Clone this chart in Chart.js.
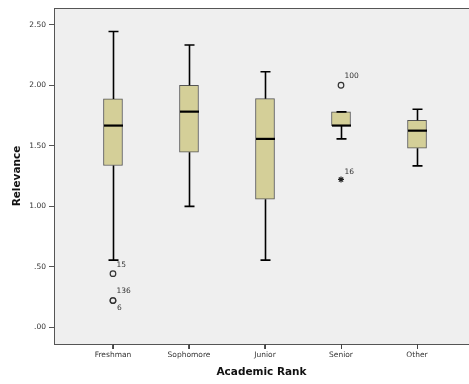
<!DOCTYPE html>
<html>
<head>
<meta charset="utf-8">
<script src="https://cdn.jsdelivr.net/npm/chart.js@4/dist/chart.umd.min.js"></script>
<style>
html,body{margin:0;padding:0;background:#fff;}
#wrap{width:469px;height:384px;}
</style>
</head>
<body>
<div id="wrap"><canvas id="c" width="469" height="384"></canvas></div>
<script>
const categories = ['Freshman', 'Sophomore', 'Junior', 'Senior', 'Other'];
const whiskerLow  = [0.556, 1.000, 0.556, 1.557, 1.334];
const q1          = [1.337, 1.447, 1.059, 1.667, 1.480];
const median      = [1.667, 1.782, 1.557, 1.667, 1.625];
const q3          = [1.887, 2.000, 1.889, 1.780, 1.711];
const whiskerHigh = [2.444, 2.333, 2.112, 1.780, 1.802];

const outlierCat   = [0, 0, 0, 3];
const outlierVal   = [0.444, 0.222, 0.222, 2.000];
const outlierLabel = ['15', '136', '6', '100'];

const extremeCat   = [3];
const extremeVal   = [1.222];
const extremeLabel = ['16'];

const yTicks = [0, 0.5, 1.0, 1.5, 2.0, 2.5];

const FONT = "'DejaVu Sans', sans-serif";

const boxPlugin = {
  id: 'boxPlugin',
  beforeDraw(chart) {
    const {ctx, chartArea: a} = chart;
    ctx.save();
    ctx.fillStyle = '#efefef';
    ctx.fillRect(a.left, a.top, a.right - a.left, a.bottom - a.top);
    ctx.fillStyle = '#555';
    ctx.fillRect(a.left, a.top, a.right - a.left, 1);
    ctx.restore();
  },
  afterDraw(chart) {
    // tick marks of the category axis, placed by the x scale
    const {ctx, chartArea: a} = chart;
    const xs = chart.scales.x;
    ctx.save();
    ctx.fillStyle = '#444';
    categories.forEach((c, i) => {
      const x = Math.round(xs.getPixelForValue(i));
      ctx.fillRect(x, Math.round(a.bottom), 1, 5);
    });
    ctx.restore();
  },
  afterDatasetsDraw(chart) {
    const {ctx} = chart;
    const xs = chart.scales.x, ys = chart.scales.y;
    ctx.save();
    ctx.strokeStyle = '#000';
    categories.forEach((c, i) => {
      const x = Math.round(xs.getPixelForValue(i)) + 0.5;
      const yl = ys.getPixelForValue(whiskerLow[i]);
      const y1 = ys.getPixelForValue(q1[i]);
      const ym = ys.getPixelForValue(median[i]);
      const y3 = ys.getPixelForValue(q3[i]);
      const yh = ys.getPixelForValue(whiskerHigh[i]);
      ctx.lineWidth = 1.6;
      ctx.beginPath();
      if (yl - y1 > 0.5) { ctx.moveTo(x, y1); ctx.lineTo(x, yl); }
      if (y3 - yh > 0.5) { ctx.moveTo(x, y3); ctx.lineTo(x, yh); }
      ctx.stroke();
      ctx.beginPath();
      ctx.moveTo(x - 5, yl); ctx.lineTo(x + 5, yl);
      ctx.moveTo(x - 5, yh); ctx.lineTo(x + 5, yh);
      ctx.stroke();
      ctx.lineWidth = 2.2;
      ctx.beginPath();
      ctx.moveTo(x - 9.5, ym); ctx.lineTo(x + 9.5, ym);
      ctx.stroke();
    });
    ctx.fillStyle = '#333';
    ctx.font = '7.5px ' + FONT;
    ctx.textAlign = 'left';
    ctx.textBaseline = 'middle';
    const seen = {};
    const drawLabels = (cats, vals, labels, upOff) => {
      labels.forEach((t, i) => {
        const key = cats[i] + '_' + vals[i];
        const n = seen[key] || 0;
        seen[key] = n + 1;
        const px = xs.getPixelForValue(cats[i]);
        const py = ys.getPixelForValue(vals[i]);
        if (n === 0) ctx.fillText(t, px + 3.5, py - upOff);
        else ctx.fillText(t, px + 4, py + 8);
      });
    };
    drawLabels(outlierCat, outlierVal, outlierLabel, 9);
    drawLabels(extremeCat, extremeVal, extremeLabel, 7);
    ctx.restore();
  }
};

new Chart(document.getElementById('c'), {
  type: 'bar',
  data: {
    datasets: [
      {
        type: 'bar',
        data: categories.map((c, i) => ({x: i, y: [q1[i], q3[i]]})),
        backgroundColor: '#d4cf98',
        borderColor: '#555',
        borderWidth: 1,
        borderSkipped: false,
        barThickness: 19
      },
      {
        type: 'scatter',
        data: outlierCat.map((c, i) => ({x: c, y: outlierVal[i]})),
        pointStyle: 'circle',
        pointRadius: 2.8,
        backgroundColor: 'rgba(0,0,0,0)',
        borderColor: '#333',
        borderWidth: 1.2
      },
      {
        type: 'scatter',
        data: extremeCat.map((c, i) => ({x: c, y: extremeVal[i]})),
        pointStyle: 'star',
        pointRadius: 3,
        backgroundColor: '#222',
        borderColor: '#222',
        borderWidth: 1.2
      }
    ]
  },
  options: {
    responsive: false,
    animation: false,
    events: [],
    layout: {autoPadding: false, padding: {top: 8, right: 0, left: 0, bottom: 0}},
    plugins: {legend: {display: false}, tooltip: {enabled: false}},
    scales: {
      x: {
        type: 'linear',
        min: -0.776,
        max: 4.684,
        offset: false,
        afterBuildTicks(scale) { scale.ticks = categories.map((c, i) => ({value: i})); },
        afterFit(scale) { scale.height = 40; scale.paddingRight = 0; scale.paddingLeft = 0; },
        ticks: {
          callback: (v) => categories[v],
          color: '#333',
          font: {family: FONT, size: 7.5},
          padding: 2,
          maxRotation: 0,
          autoSkip: false
        },
        grid: {display: true, offset: false, drawOnChartArea: false, drawTicks: true, tickLength: 5, color: '#555', lineWidth: 1},
        border: {display: true, color: '#555', width: 1},
        title: {
          display: true,
          text: 'Academic Rank',
          color: '#111',
          font: {family: FONT, size: 10.5, weight: 'bold'},
          padding: {top: 0, bottom: 5}
        }
      },
      y: {
        type: 'linear',
        min: -0.137,
        max: 2.638,
        afterBuildTicks(scale) { scale.ticks = yTicks.map(v => ({value: v})); },
        afterFit(scale) { scale.width = 54; },
        ticks: {
          callback: (v) => v.toFixed(2).replace(/^0/, ''),
          color: '#333',
          font: {family: FONT, size: 7.5},
          padding: 3
        },
        grid: {display: true, drawOnChartArea: false, drawTicks: true, tickLength: 5, color: '#555', lineWidth: 1},
        border: {display: true, color: '#555', width: 1},
        title: {
          display: true,
          text: 'Relevance',
          color: '#111',
          font: {family: FONT, size: 10.5, weight: 'bold'},
          padding: {top: 11, bottom: 0}
        }
      }
    }
  },
  plugins: [boxPlugin]
});
</script>
</body>
</html>
